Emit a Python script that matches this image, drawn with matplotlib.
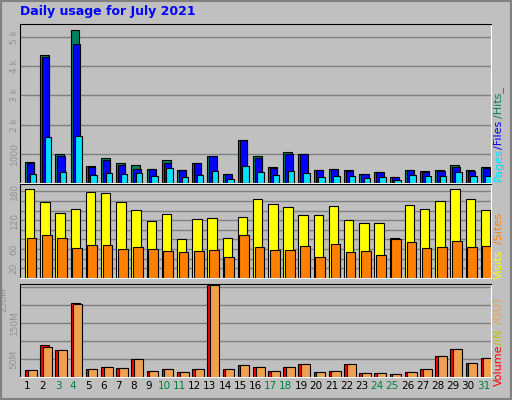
import matplotlib
matplotlib.use("Agg")
import matplotlib.pyplot as plt
import numpy as np

days = list(range(1, 32))
hits = [724,4380,977,5240,590,840,670,630,490,800,460,700,940,320,1490,910,560,1050,1010,460,490,460,320,390,220,460,425,460,630,460,560]
files = [690,4320,940,4760,550,800,630,490,490,700,460,670,910,320,1460,840,530,1010,1010,460,490,425,320,390,220,460,390,425,560,425,530]
pages = [310,1590,390,1620,280,345,310,345,240,520,210,280,425,140,590,380,280,425,345,210,240,240,170,210,100,280,240,240,380,240,240]
visits = [185,158,135,143,179,177,158,141,118,132,80,122,124,82,126,164,153,147,130,130,149,120,114,114,84,151,143,160,185,164,141]
sites = [82,90,82,63,69,69,61,65,61,57,53,57,59,44,90,65,59,59,67,44,71,53,55,48,80,74,63,65,76,65,67]
volume = [19,88,74,206,21,29,26,51,18,21,15,23,254,23,32,29,18,29,37,15,18,35,12,12,7,15,23,57,77,40,54]
vol_out = [19,82,74,203,21,29,26,51,18,21,15,23,254,23,32,29,18,29,37,15,18,35,12,12,7,15,23,57,77,40,54]
weekend = [3,4,10,11,17,18,24,25,31]

W, H = 512, 400
BG = "#c0c0c0"
fig = plt.figure(figsize=(W/100, H/100), dpi=100, facecolor=BG)
x = np.array(days)

def ax_px(l, t, r, b):
    a = fig.add_axes([l/W, 1-b/H, (r-l)/W, (b-t)/H])
    a.set_facecolor(BG)
    a.set_xlim(0.5, 31.5)
    a.set_xticks([])
    for s in ["top", "left"]:
        a.spines[s].set_color("black")
    for s in ["bottom", "right"]:
        a.spines[s].set_color("white")
    a.tick_params(axis="y", length=0, labelsize=6.5, labelcolor="#909090", pad=1)
    a.set_axisbelow(True)
    return a

def bars(a, left, width, vals, color):
    a.bar(x + left, vals, width=width, align="edge", color=color, edgecolor="black", linewidth=0.8)

# top
a1 = ax_px(20, 24, 491, 183)
a1.set_ylim(0, 5450)
a1.set_yticks([1000, 2000, 3000, 4000, 5000])
a1.set_yticklabels(["1000", "2 k", "3 k", "4 k", "5 k"], rotation=90, va="center")
a1.grid(axis="y", color="#808080", linewidth=1)
bars(a1, -0.17, 0.58, hits, "#008060")
bars(a1, -0.04, 0.48, files, "#0000ff")
bars(a1, 0.13, 0.43, pages, "#00e0ff")

# middle
a2 = ax_px(20, 184, 491, 278)
a2.set_ylim(0, 195)
a2.set_yticks([20, 60, 120, 180])
a2.set_yticklabels(["20", "60", "120", "180"], rotation=90, va="center")
a2.set_yticks(np.arange(20, 200, 20), minor=True)
a2.tick_params(axis="y", which="minor", length=0)
a2.grid(axis="y", which="both", color="#808080", linewidth=1)
bars(a2, -0.17, 0.62, visits, "#ffff00")
bars(a2, -0.06, 0.64, sites, "#ff8000")

# bottom
a3 = ax_px(20, 284, 491, 377)
a3.set_ylim(0, 258)
a3.set_yticks([50, 150])
a3.set_yticklabels(["50M", "150M"], rotation=90, va="center")
a3.set_yticks([50, 100, 150, 200, 250], minor=True)
a3.tick_params(axis="y", which="minor", length=0)
a3.grid(axis="y", which="both", color="#808080", linewidth=1)
bars(a3, -0.17, 0.6, volume, "#ff0000")
bars(a3, 0.0, 0.6, vol_out, "#f0a050")
a3.set_xticks(x)
a3.set_xticklabels([str(d) for d in days], fontsize=7.5)
a3.tick_params(axis="x", length=0, pad=3)
for lab, d in zip(a3.get_xticklabels(), days):
    lab.set_color("#008040" if d in weekend else "black")
a3.text(-0.035, 250, "250M", transform=a3.get_yaxis_transform(), rotation=90,
        ha="center", va="top", fontsize=6.5, color="#909090")

fig.text(20/W, 1-12/H, "Daily usage for July 2021", color="#0000ff",
         fontsize=9, fontweight="bold", va="center", ha="left")

def side(y, s, c):
    fig.text(499/W, 1-y/H, s, color=c, rotation=90, fontsize=8, ha="center", va="bottom")

side(181, "Pages", "#00e0ff")
side(149, "/Files", "#0000ff")
side(118, "/Hits_", "#008060")
side(279, "Visits", "#ffff00")
side(244, "/Sites", "#ff8000")
side(386, "Volume", "#ff0000")
side(345, "/IN", "#c0c000")
side(324, "/OUT", "#f0a050")

from matplotlib.patches import Rectangle
fig.patches.append(Rectangle((0, 0), 1, 1, transform=fig.transFigure, fill=False,
                             edgecolor="#808080", linewidth=3))
fig.savefig("out.png", dpi=100, facecolor=BG)
